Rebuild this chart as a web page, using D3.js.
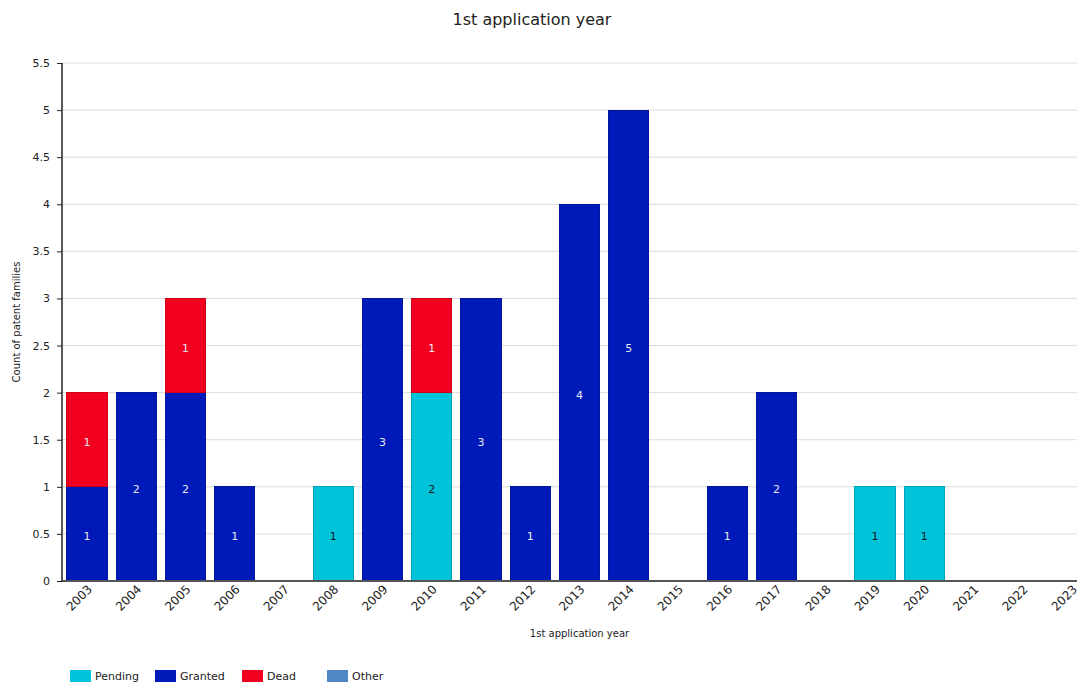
<!DOCTYPE html>
<html><head><meta charset="utf-8">
<script src="https://cdn.jsdelivr.net/npm/d3@7"></script>
<style>body{margin:0;background:#fff;overflow:hidden}svg{display:block;font-family:"DejaVu Sans",Verdana,sans-serif}</style>
</head><body><svg id="c" width="1077" height="682"></svg>
<script>
const years = ["2003","2004","2005","2006","2007","2008","2009","2010","2011","2012","2013","2014","2015","2016","2017","2018","2019","2020","2021","2022","2023"];
const seriesNames = ["Pending","Granted","Dead","Other"];
const seriesColors = ["#00C3D9","#0019B9","#F20020","#4F86C6"];
const pending = [0,0,0,0,0,1,0,2,0,0,0,0,0,0,0,0,1,1,0,0,0];
const granted = [1,2,2,1,0,0,3,0,3,1,4,5,0,1,2,0,0,0,0,0,0];
const dead    = [1,0,1,0,0,0,0,1,0,0,0,0,0,0,0,0,0,0,0,0,0];
const other   = [0,0,0,0,0,0,0,0,0,0,0,0,0,0,0,0,0,0,0,0,0];
const yTicks = [0,0.5,1,1.5,2,2.5,3,3.5,4,4.5,5,5.5];

const table = years.map((y,i)=>({year:y,Pending:pending[i],Granted:granted[i],Dead:dead[i],Other:other[i]}));
const svg = d3.select("#c");
const L=62, R=1097, T=63, B=581;
const x = d3.scaleBand().domain(years).range([L,R]).paddingInner(0.185).paddingOuter(0.1);
const y = d3.scaleLinear().domain([0,5.5]).range([B,T]);

// gridlines
svg.append("g").selectAll("line").data(yTicks.filter(d=>d>0)).join("line")
  .attr("x1",L).attr("x2",1077).attr("y1",d=>y(d)).attr("y2",d=>y(d))
  .attr("stroke","#dcdcdc").attr("stroke-width",1);

// title
svg.append("text").attr("x",532).attr("y",25).attr("text-anchor","middle")
  .attr("font-size",16).attr("fill","#222").text("1st application year");

const stack = d3.stack().keys(seriesNames)(table);
const color = d3.scaleOrdinal().domain(seriesNames).range(seriesColors);
const darker = c=>d3.color(c).darker(0.5);

stack.forEach(layer=>{
  const g = svg.append("g");
  const segs = layer.filter(d=>d[1]-d[0]>0);
  g.selectAll("rect").data(segs).join("rect")
    .attr("x",d=>x(d.data.year)).attr("width",x.bandwidth())
    .attr("y",d=>y(d[1])).attr("height",d=>y(d[0])-y(d[1]))
    .attr("fill",color(layer.key)).attr("stroke",darker(color(layer.key))).attr("stroke-width",1)
    .attr("shape-rendering","crispEdges");
  g.selectAll("text").data(segs).join("text")
    .attr("x",d=>x(d.data.year)+x.bandwidth()/2)
    .attr("y",d=>(y(d[0])+y(d[1]))/2+6)
    .attr("text-anchor","middle").attr("font-size",11)
    .attr("fill",layer.key==="Pending"?"#1a1a1a":"#e8e8f0")
    .text(d=>d[1]-d[0]);
});

// x axis
const xa = svg.append("g").attr("transform",`translate(0,${B})`)
  .call(d3.axisBottom(x).tickSize(0).tickPadding(0));
xa.select(".domain").attr("stroke","#555").attr("stroke-width",2).attr("d",`M${L},0H1077`);
xa.selectAll("text").attr("font-size",12).attr("fill","#222")
  .attr("font-family","DejaVu Sans, Verdana, sans-serif")
  .attr("text-anchor","end").attr("dy",null).attr("y",0)
  .attr("transform","translate(6,9) rotate(-45)");

// y axis
const ya = svg.append("g").attr("transform",`translate(${L},0)`)
  .call(d3.axisLeft(y).tickValues(yTicks).tickSize(5).tickPadding(7).tickFormat(d3.format("")));
ya.select(".domain").attr("stroke","#222").attr("stroke-width",1.5).attr("d",`M0,${T}V${B}`);
ya.selectAll(".tick line").attr("stroke","#222");
ya.selectAll("text").attr("font-size",11).attr("fill","#222")
  .attr("font-family","DejaVu Sans, Verdana, sans-serif");

// axis titles
svg.append("text").attr("x",(L+R)/2).attr("y",637).attr("text-anchor","middle")
  .attr("font-size",10).attr("fill","#222").text("1st application year");
svg.append("text").attr("transform",`translate(20,${(T+B)/2}) rotate(-90)`).attr("text-anchor","middle")
  .attr("font-size",10).attr("fill","#222").text("Count of patent families");

// legend
const legX = [70,155,242,327];
const lg = svg.append("g").selectAll("g").data(seriesNames).join("g")
  .attr("transform",(d,i)=>`translate(${legX[i]},670)`);
lg.append("rect").attr("width",21).attr("height",12).attr("fill",d=>color(d));
lg.append("text").attr("x",25).attr("y",10).attr("font-size",11).attr("fill","#222").text(d=>d);
</script></body></html>
